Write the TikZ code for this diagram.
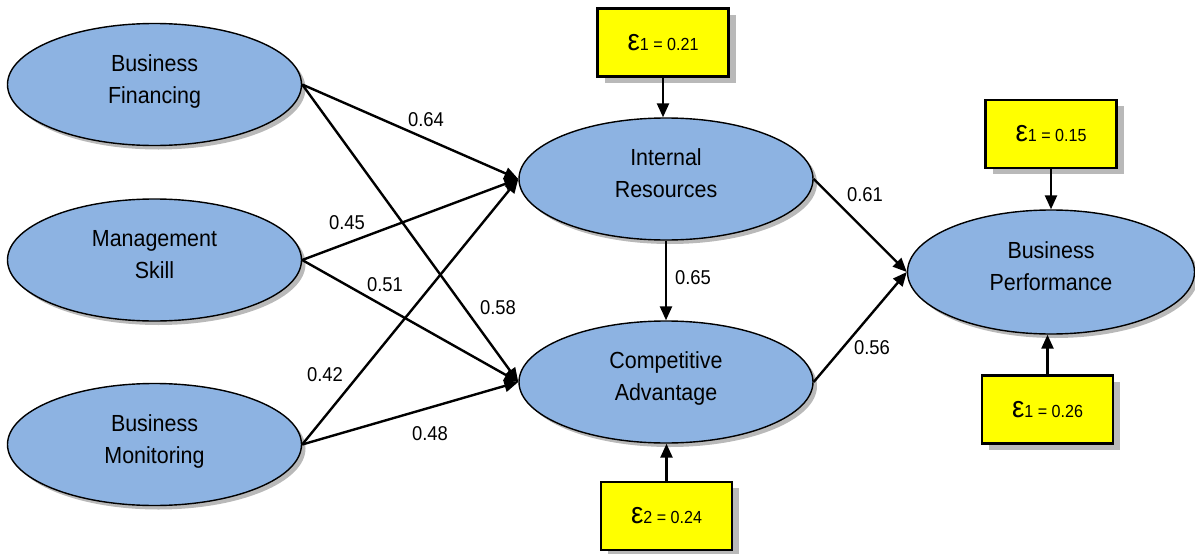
\documentclass[tikz,border=0pt]{standalone}
\usepackage{fontspec}
\setmainfont{Liberation Sans}[FakeStretch=0.92]
\usetikzlibrary{arrows.meta,shapes.geometric,shadows}
\definecolor{ellfill}{RGB}{141,179,226}
\definecolor{boxfill}{RGB}{255,255,0}
\definecolor{shadowgray}{RGB}{185,185,185}
\newcommand\errtext[2]{{\fontsize{30}{30}\selectfont ε}{\fontsize{17.5}{17.5}\selectfont #1 = #2}}
\begin{document}
\begin{tikzpicture}[x=1pt,y=-1pt,
  latent/.style={ellipse, draw=black, line width=1.4pt, fill=ellfill,
    minimum width=294pt, minimum height=122pt, inner sep=0pt, align=center,
    font=\fontsize{23.3}{32}\selectfont, text height=41pt, text depth=4pt,
    drop shadow={shadow xshift=4pt, shadow yshift=-4pt, fill=shadowgray, opacity=1}},
  errbox/.style={rectangle, draw=black, line width=2.6pt, fill=boxfill,
    minimum width=131pt, minimum height=68pt, inner sep=0pt,
    drop shadow={shadow xshift=7pt, shadow yshift=-6pt, fill=shadowgray, opacity=1}},
  link/.style={line width=2.4pt, -{Triangle[length=14pt,width=12pt]}},
  coef/.style={font=\fontsize{20}{20}\selectfont, inner sep=0pt}
]
\useasboundingbox (0,0) rectangle (1195,554);

% latent variables
\node[latent] (bf) at (154.5,84.5) {Business\\Financing};
\node[latent] (ms) at (154.5,260) {Management\\Skill};
\node[latent] (bm) at (154.5,444.5) {Business\\Monitoring};
\node[latent] (ir) at (666,179) {Internal\\Resources};
\node[latent] (ca) at (666,382) {Competitive\\Advantage};
\node[latent, minimum width=287pt, minimum height=124pt] (bp) at (1051,272) {Business\\Performance};

% error boxes
\node[errbox] (e1) at (663,42.5) {\errtext{1}{0.21}};
\node[errbox] (e2) at (666.5,516) {\errtext{2}{0.24}};
\node[errbox] (e3) at (1051,134) {\errtext{1}{0.15}};
\node[errbox] (e4) at (1047.5,409.5) {\errtext{1}{0.26}};

% error arrows
\draw[link] (e1.south) -- (e1.south |- ir.north);
\draw[link] (e2.north) -- (e2.north |- ca.south);
\draw[link] (e3.south) -- (e3.south |- bp.north);
\draw[link] (e4.north) -- (e4.north |- bp.south);

% structural paths
\draw[link] (bf.east) -- (ir.west);
\draw[link] (bf.east) -- (ca.west);
\draw[link] (ms.east) -- (ir.west);
\draw[link] (ms.east) -- (ca.west);
\draw[link] (bm.east) -- (ir.west);
\draw[link] (bm.east) -- (ca.west);
\draw[link] (ir.south) -- (ca.north);
\draw[link] (ir.east) -- (bp.west);
\draw[link] (ca.east) -- (bp.west);

% coefficients
\node[coef] (c64) at (426,120) {0.64};
\node[coef] (c45) at (347,223) {0.45};
\node[coef] (c51) at (385,285) {0.51};
\node[coef] (c58) at (498,308) {0.58};
\node[coef] (c42) at (325,375) {0.42};
\node[coef] (c48) at (430,434) {0.48};
\node[coef] (c65) at (693,278) {0.65};
\node[coef] (c61) at (865,195) {0.61};
\node[coef] (c56) at (872,348) {0.56};
\end{tikzpicture}
\end{document}
